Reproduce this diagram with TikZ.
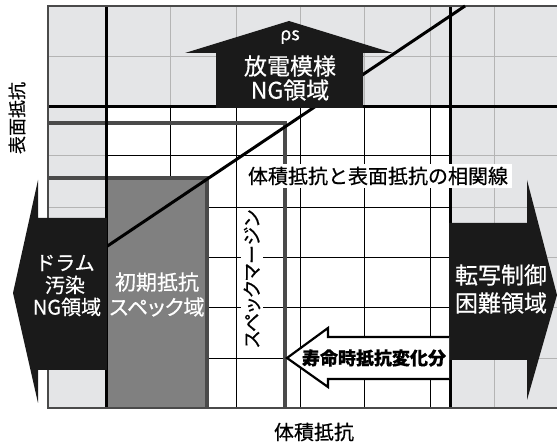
\documentclass[tikz,border=0pt]{standalone}
\usepackage{fontspec}
\setmainfont{Noto Sans CJK JP}[FakeBold=0.5]
\newfontfamily\jpp{Noto Sans CJK JP}[RawFeature=+palt, FakeBold=0.5]
\definecolor{bgray}{HTML}{E4E5E7}
\definecolor{lgrid}{HTML}{B4B4B4}
\definecolor{dline}{HTML}{4A4A4A}
\definecolor{boxgray}{HTML}{808080}
\definecolor{arrblack}{HTML}{1A1A1A}
\tikzset{
  gridlight/.style={draw=lgrid, line width=0.9pt},
  griddark/.style={draw=black, line width=0.9pt},
  thickline/.style={draw=black, line width=3pt},
  darkgray/.style={draw=dline, line width=3.5pt},
  bigarrow/.style={fill=arrblack, draw=none},
  wtext/.style={text=white, align=center, inner sep=0pt},
  btext/.style={text=black, align=center, inner sep=0pt},
}
\begin{document}
\begin{tikzpicture}[x=1pt, y=-1pt]
\useasboundingbox (0,0) rectangle (557,443);
% backgrounds
\fill[bgray] (48,6) rectangle (557,408);
\fill[white] (106,107) rectangle (450,408);
% grid lines
\foreach \x in {170,236,300,364,430} {
  \draw[gridlight] (\x,6) -- (\x,107);
  \draw[griddark] (\x,107) -- (\x,408);
}
\draw[gridlight] (494,6) -- (494,408);
\draw[gridlight] (48,56) -- (557,56);
\foreach \y in {155,207,257,307,358} {
  \draw[gridlight] (48,\y) -- (106,\y);
  \draw[gridlight] (450,\y) -- (557,\y);
  \draw[griddark] (106,\y) -- (450,\y);
}
% spec box
\fill[boxgray] (106,178) rectangle (207,408);
% dark gray lines
\draw[darkgray] (48,123) -- (285,123) -- (285,408);
\draw[darkgray] (48,178) -- (207,178) -- (207,408);
% thick black lines
\draw[thickline] (106,6) -- (106,408);
\draw[thickline] (450,6) -- (450,408);
\draw[thickline] (48,107) -- (557,107);
% frame
\draw[dline, line width=1.2pt] (557,6) -- (48,6) -- (48,408) -- (557,408);
% diagonal correlation line
\coordinate (dA) at (106,247);
\coordinate (dB) at (465,6);
\draw[black, line width=3pt] (dA) -- (dB);
% up arrow
\fill[bigarrow] (216,108) -- (216,53) -- (185,53) -- (289,21) -- (393,53) -- (363,53) -- (363,108) -- cycle;
\node[wtext, font=\fontsize{18}{18}\selectfont] (rho) at (290,37) {ρs};
\node[wtext, font=\fontsize{23}{23}\selectfont] (up1) at (290,66) {放電模様};
\node[wtext, font=\fontsize{23}{23}\selectfont] (up2) at (290,90) {NG領域};
% left arrow
\fill[bigarrow] (107,218) -- (38,218) -- (38,180) -- (13,293) -- (38,403) -- (38,370) -- (107,370) -- cycle;
\node[wtext, font=\fontsize{20}{20}\selectfont] (l1) at (65,263) {ドラム};
\node[wtext, font=\fontsize{20}{20}\selectfont] (l2) at (65,285) {汚染};
\node[wtext, font=\fontsize{20}{20}\selectfont] (l3) at (67,307) {NG領域};
% right arrow
\fill[bigarrow] (449,223) -- (527,223) -- (527,180) -- (557,295) -- (527,400) -- (527,360) -- (449,360) -- cycle;
\node[wtext, font=\fontsize{23}{23}\selectfont] (r1) at (501,275) {転写制御};
\node[wtext, font=\fontsize{23}{23}\selectfont] (r2) at (501,303) {困難領域};
% spec box labels
\node[wtext, font=\fontsize{21}{21}\selectfont] (s1) at (157,282) {初期抵抗};
\node[wtext, font=\jpp\fontsize{21}{21}\selectfont] (s2) at (157,307) {スペック域};
% correlation label
\node[fill=white, inner xsep=4pt, inner ysep=3pt, font=\fontsize{20}{20}\selectfont] (corr) at (378,176) {体積抵抗と表面抵抗の相関線};
% spec margin vertical text
\node[fill=white, rotate=90, inner xsep=2pt, inner ysep=3pt, font=\jpp\fontsize{19}{19}\selectfont] (margin) at (252,279) {スペックマージン};
% hollow arrow
\draw[black, fill=white, line width=2.2pt, line join=miter] (449,337) -- (328,337) -- (328,328) -- (287,358) -- (328,387) -- (328,379) -- (449,379);
\node[btext, font=\bfseries\fontsize{18}{18}\selectfont] (life) at (374,358) {寿命時抵抗変化分};
% axis labels
\node[btext, font=\fontsize{20}{20}\selectfont] (xlab) at (314,432) {体積抵抗};
\node[btext, rotate=90, font=\fontsize{18}{18}\selectfont] (ylab) at (17,118) {表面抵抗};
\end{tikzpicture}
\end{document}
